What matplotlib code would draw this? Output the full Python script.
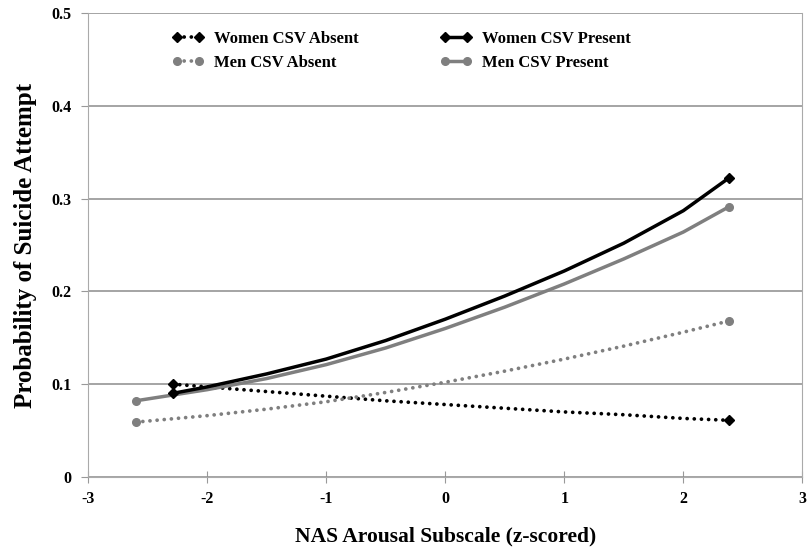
import matplotlib.pyplot as plt
from matplotlib.legend_handler import HandlerLine2D

# Values
women_absent_x = [-2.29, -2.0, -1.5, -1.0, -0.5, 0.0, 0.5, 1.0, 1.5, 2.0, 2.38]
women_absent_y = [0.100, 0.097, 0.092, 0.087, 0.082, 0.078, 0.074, 0.070, 0.067, 0.063, 0.061]

women_present_x = [-2.29, -2.0, -1.5, -1.0, -0.5, 0.0, 0.5, 1.0, 1.5, 2.0, 2.38]
women_present_y = [0.090, 0.097, 0.111, 0.127, 0.147, 0.170, 0.195, 0.222, 0.252, 0.287, 0.322]

men_absent_x = [-2.6, -2.0, -1.5, -1.0, -0.5, 0.0, 0.5, 1.0, 1.5, 2.0, 2.38]
men_absent_y = [0.059, 0.066, 0.073, 0.081, 0.091, 0.102, 0.114, 0.127, 0.141, 0.156, 0.168]

men_present_x = [-2.6, -2.0, -1.5, -1.0, -0.5, 0.0, 0.5, 1.0, 1.5, 2.0, 2.38]
men_present_y = [0.082, 0.094, 0.106, 0.121, 0.139, 0.160, 0.183, 0.208, 0.235, 0.264, 0.291]

x_ticks = [-3, -2, -1, 0, 1, 2, 3]
y_ticks = [0, 0.1, 0.2, 0.3, 0.4, 0.5]
y_labels = ["0", "0.1", "0.2", "0.3", "0.4", "0.5"]

plt.rcParams["font.family"] = "Liberation Serif"
plt.rcParams["font.weight"] = "bold"
plt.rcParams["axes.unicode_minus"] = False

fig = plt.figure(figsize=(8.08, 5.50), dpi=100)
ax = fig.add_axes([0.109, 0.133, 0.884, 0.843])

dotted = (0, (0.01, 1.9))
gray = "#7f7f7f"

ax.plot(women_absent_x, women_absent_y, color="black", lw=2.7, ls=dotted,
        dash_capstyle="round", marker="D", ms=5.5, markevery=[0, -1],
        label="Women CSV Absent", zorder=3)
ax.plot(women_present_x, women_present_y, color="black", lw=2.5,
        marker="D", ms=5.5, markevery=[0, -1], label="Women CSV Present", zorder=4)
ax.plot(men_absent_x, men_absent_y, color=gray, lw=2.7, ls=dotted,
        dash_capstyle="round", marker="o", ms=5.5, markevery=[0, -1],
        label="Men CSV Absent", zorder=3)
ax.plot(men_present_x, men_present_y, color=gray, lw=2.5,
        marker="o", ms=5.5, markevery=[0, -1], label="Men CSV Present", zorder=3)

ax.set_xlim(-3, 3)
ax.set_ylim(0, 0.5)
ax.set_xticks(x_ticks)
ax.set_yticks(y_ticks)
ax.set_yticklabels(y_labels)
ax.tick_params(axis="both", labelsize=11.5, colors="#999999", labelcolor="black")
ax.tick_params(axis="x", direction="inout", length=9, pad=6)
ax.tick_params(axis="y", direction="out", length=5, pad=7)

ax.grid(axis="y", color="#8c8c8c", lw=1.1)
for side in ["left", "bottom", "right"]:
    ax.spines[side].set_color("#aaaaaa")
ax.spines["top"].set_visible(False)

ax.set_xlabel("NAS Arousal Subscale (z-scored)", fontsize=15.5, fontweight="bold", labelpad=14)
ax.set_ylabel("Probability of Suicide Attempt", fontsize=18, fontweight="bold", labelpad=10)

handles, labels = ax.get_legend_handles_labels()
order = [0, 2, 1, 3]
ax.legend([handles[i] for i in order], [labels[i] for i in order],
          ncol=2, loc="upper left", bbox_to_anchor=(0.097, 0.994), frameon=False,
          columnspacing=4.9, handlelength=1.9, handletextpad=0.6,
          labelspacing=0.5, numpoints=2, prop={"weight": "bold", "size": 12},
          handler_map={h: HandlerLine2D(numpoints=2) for h in handles})

fig.savefig("out.png", dpi=100)
